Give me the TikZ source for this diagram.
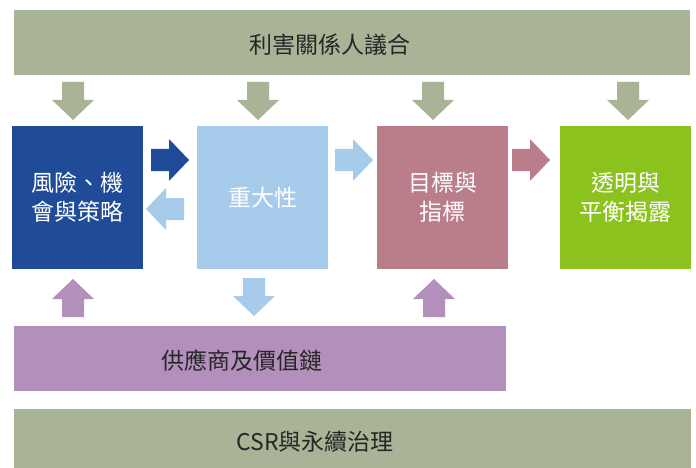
\documentclass[tikz,border=0pt]{standalone}
\usepackage{fontspec}
\setmainfont{Noto Sans CJK TC}
\definecolor{olivebar}{HTML}{A9B396}
\definecolor{darkblue}{HTML}{1F4B99}
\definecolor{lightblue}{HTML}{A6CBEB}
\definecolor{mauve}{HTML}{BA7D8A}
\definecolor{limegreen}{HTML}{8BC21E}
\definecolor{lilac}{HTML}{B38FBB}
\definecolor{darktext}{HTML}{262626}
\tikzset{
  x=1pt, y=-1pt,
  box/.style={draw=none, inner sep=0pt, minimum width=131pt, minimum height=143pt, text=white, align=center, font=\fontsize{23}{29}\selectfont},
  bartext/.style={inner sep=0pt, text=darktext, font=\fontsize{23}{26}\selectfont},
  barrow/.pic={\fill (0,-11) -- (18,-11) -- (18,-21) -- (38,0) -- (18,21) -- (18,11) -- (0,11) -- cycle;}
}
\begin{document}
\begin{tikzpicture}
\useasboundingbox (0,0) rectangle (696,468);
% bars
\fill[olivebar] (14,10) rectangle (690,75);
\node[bartext] (top) at (330,45) {利害關係人議合};
\fill[lilac] (14,326) rectangle (506,391);
\node[bartext] (supply) at (242,361) {供應商及價值鏈};
\fill[olivebar] (14,409) rectangle (691,468);
\node[bartext] (csr) at (315,442) {CSR與永續治理};
% boxes
\node[box, fill=darkblue] (risk) at (77.5,197.5) {風險、機\\會與策略};
\node[box, fill=lightblue] (mat) at (262.5,197.5) {重大性};
\node[box, fill=mauve] (goal) at (442.5,197.5) {目標與\\指標};
\node[box, fill=limegreen] (disc) at (625.5,197.5) {透明與\\平衡揭露};
% top down arrows
\pic[olivebar, rotate=-90] at (73,82) {barrow};
\pic[olivebar, rotate=-90] at (258,82) {barrow};
\pic[olivebar, rotate=-90] at (433,82) {barrow};
\pic[olivebar, rotate=-90] at (628,82) {barrow};
% horizontal arrows
\pic[darkblue] at (151,160) {barrow};
\pic[lightblue, rotate=180] at (184,209) {barrow};
\pic[lightblue] at (335,160) {barrow};
\pic[mauve] at (512,160) {barrow};
% bottom arrows
\pic[lilac, rotate=90] at (73,317) {barrow};
\pic[lightblue, rotate=-90] at (254,278) {barrow};
\pic[lilac, rotate=90] at (434,317) {barrow};
\end{tikzpicture}
\end{document}
